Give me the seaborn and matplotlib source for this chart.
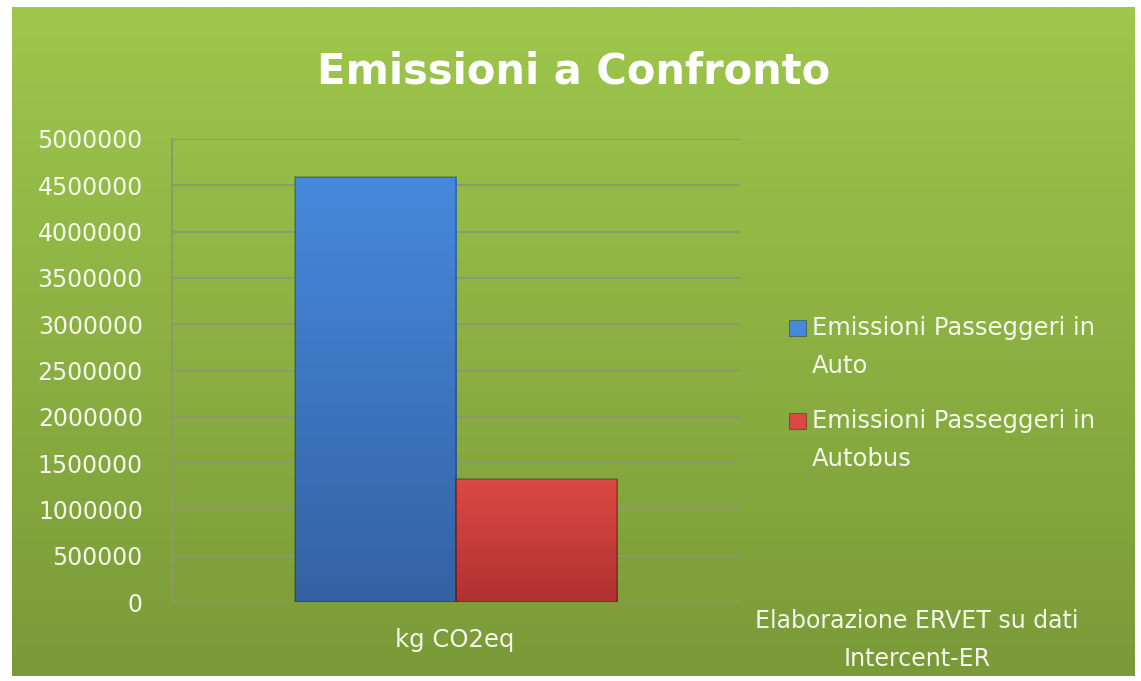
#!/usr/bin/env python3
"""Emissioni a Confronto — bar chart in the old Excel green style."""
import matplotlib
matplotlib.use("Agg")
import matplotlib.pyplot as plt
from matplotlib.colors import LinearSegmentedColormap
import numpy as np
import pandas as pd
import seaborn as sns

CATEGORY = ["kg CO2eq"]
SERIES = ["Emissioni Passeggeri in\nAuto", "Emissioni Passeggeri in\nAutobus"]
VALUES = [4590000, 1330000]
YTICKS = list(range(0, 5000001, 500000))

TITLE = "Emissioni a Confronto"
SOURCE = "Elaborazione ERVET su dati\nIntercent-ER"

BAR_TOP = ["#4689dc", "#dc4844"]
BAR_BOTTOM = ["#3462a4", "#b03230"]
TEXT = "#f4f8ec"
GRID = "#8b9a6c"

sns.set_style("white")
plt.rcParams.update({"font.family": ["DejaVu Sans"], "font.size": 16})

df = pd.DataFrame({
    "cat": CATEGORY * len(SERIES),
    "serie": SERIES,
    "val": VALUES,
})

W, H = 1141, 681
fig = plt.figure(figsize=(W / 100, H / 100), dpi=100, facecolor="white")

# green gradient panel behind everything
bg = fig.add_axes([12 / W, 1 - 676 / H, (1135 - 12) / W, (676 - 7) / H], zorder=0)
green = LinearSegmentedColormap.from_list("g", ["#9ec74c", "#7a9a38"])
bg.imshow(np.linspace(0, 1, 256).reshape(-1, 1), aspect="auto", cmap=green,
          extent=[0, 1, 0, 1])
bg.set_axis_off()

ax = fig.add_axes([172 / W, 1 - 602 / H, (740 - 172) / W, (602 - 139) / H], zorder=1)
ax.patch.set_alpha(0)
sns.barplot(data=df, x="cat", y="val", hue="serie", palette=BAR_TOP[:len(SERIES)],
            width=0.567, saturation=1, ax=ax, legend=False, zorder=3)

# vertical shading on each bar, clipped to the bar shape
for patch, top, bot in zip(ax.patches, BAR_TOP, BAR_BOTTOM):
    x0, y0 = patch.get_x(), patch.get_y()
    w, h = patch.get_width(), patch.get_height()
    cm = LinearSegmentedColormap.from_list("b", [top, bot])
    im = ax.imshow(np.linspace(0, 1, 128).reshape(-1, 1), cmap=cm, aspect="auto",
                   extent=[x0, x0 + w, y0, y0 + h], zorder=3.5)
    im.set_clip_path(patch)
    patch.set_edgecolor((0, 0, 0, 0.25))
    patch.set_linewidth(1.2)
    patch.set_zorder(4)
    patch.set_facecolor("none")

ax.set_xlim(-0.5, 0.5)
ax.set_ylim(0, 5000000)
ax.set_yticks(YTICKS)
ax.set_yticklabels([str(v) for v in YTICKS])
ax.yaxis.grid(True, color=GRID, lw=1.4, zorder=0)
ax.set_axisbelow(True)
for s in ["top", "right", "bottom"]:
    ax.spines[s].set_visible(False)
ax.spines["left"].set_color(GRID)
ax.spines["left"].set_linewidth(1.4)
ax.tick_params(axis="y", colors=GRID, labelcolor=TEXT, length=7, width=1.4,
               labelsize=17, pad=14)
ax.set_xticks([])
ax.set_xlabel("")
ax.set_ylabel("")

fig.text(455 / W, 1 - 640 / H, CATEGORY[0], ha="center", va="center",
         color=TEXT, fontsize=17.5)
fig.text(574 / W, 1 - 72 / H, TITLE, ha="center", va="center",
         color="white", fontsize=30, fontweight="bold")
fig.text(917 / W, 1 - 640 / H, SOURCE, ha="center", va="center",
         color=TEXT, fontsize=17, linespacing=1.75)

# legend: small squares with two-line labels
boxes = [320, 413]
for lab, col, y in zip(SERIES, BAR_TOP, boxes):
    fig.patches.append(plt.Rectangle((789 / W, 1 - (y + 16) / H), 17 / W, 16 / H,
                                     transform=fig.transFigure, facecolor=col,
                                     edgecolor=(0, 0, 0, 0.3), lw=0.8, zorder=5))
    fig.text(812 / W, 1 - (y + 27) / H, lab, ha="left", va="center", color=TEXT,
             fontsize=17.5, linespacing=1.75)

fig.savefig("out.png", dpi=100, facecolor="white")
